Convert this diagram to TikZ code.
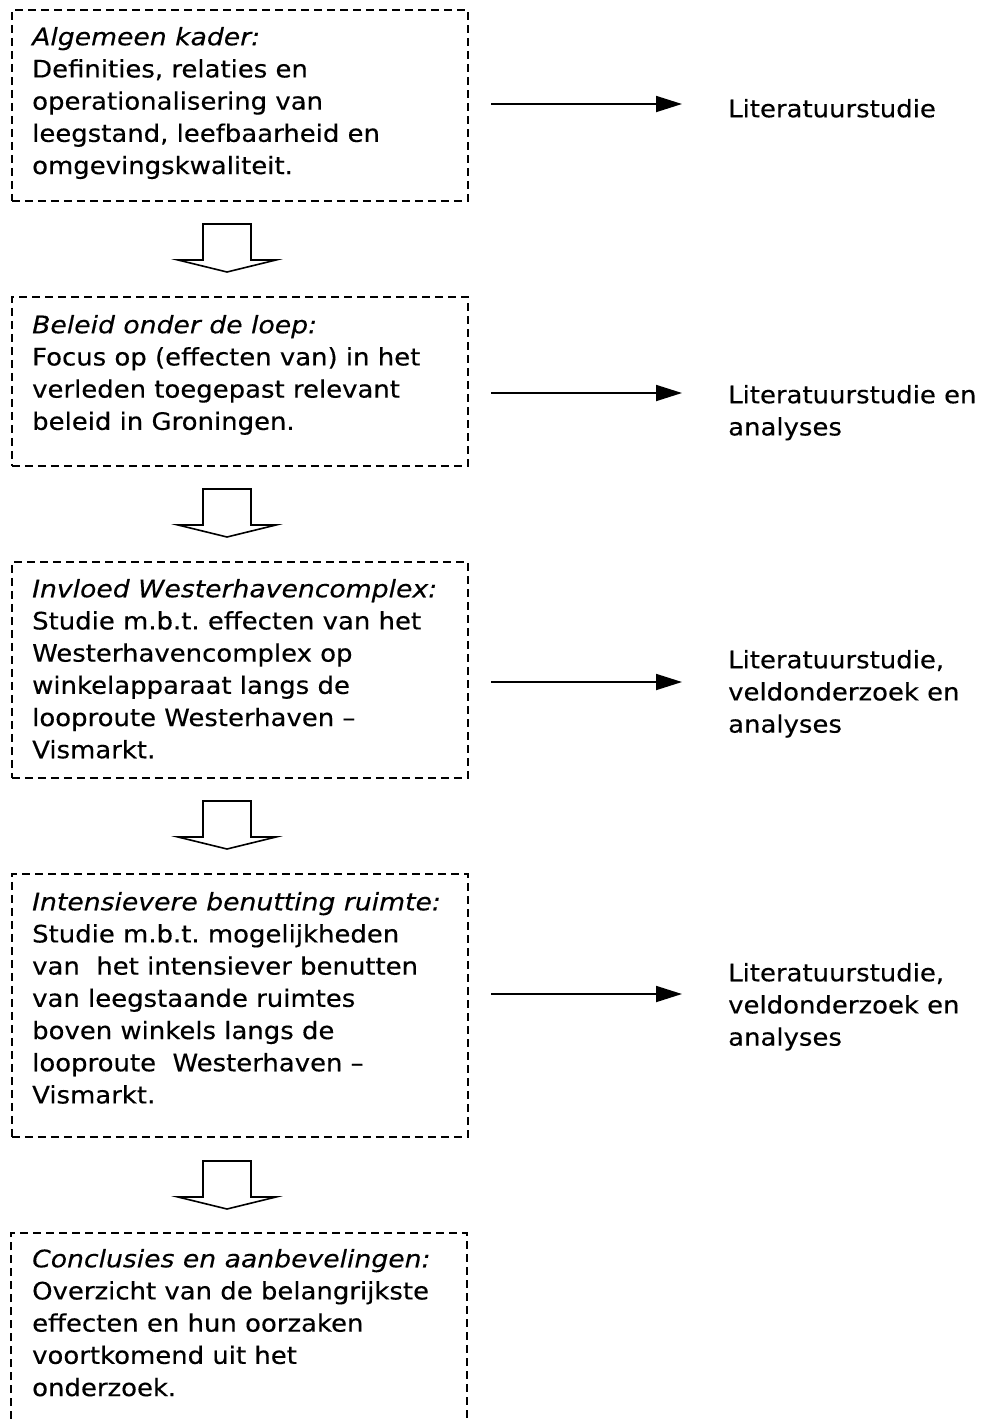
\documentclass[tikz,border=0pt]{standalone}
\usepackage{fontspec}
\setmainfont{DejaVu Sans}[FakeStretch=1.08,FakeBold=0.35,ItalicFeatures={FakeStretch=1.11}]
\usetikzlibrary{arrows.meta}
\frenchspacing
\tikzset{
  boxline/.style={draw=black, line width=1.5pt, dash pattern=on 8pt off 5pt},
  dbox/.style={boxline, rectangle, inner sep=0pt, anchor=north west, minimum width=456pt},
  txt/.style={inner sep=0pt, anchor=north west, align=left, font=\fontsize{24}{32.2}\selectfont\frenchspacing},
  arr/.style={line width=1.8pt, -{Triangle[length=26pt,width=16pt]}},
  pics/blockdown/.style={code={
    \draw[line width=1.6pt, line join=miter]
      (-24,0) -- (24,0) -- (24,36) -- (49,36) -- (0,48) -- (-49,36) -- (-24,36) -- cycle;
  }}
}
\begin{document}
\begin{tikzpicture}[x=1pt,y=-1pt]
\useasboundingbox (0,0) rectangle (984,1419);

% boxes
\node[dbox, minimum height=191pt] (b1) at (11,9) {};
\node[dbox, minimum height=169pt] (b2) at (11,296) {};
\node[dbox, minimum height=216pt] (b3) at (11,561) {};
\node[dbox, minimum height=263pt] (b4) at (11,873) {};
\draw[boxline] (11,1419) -- (11,1233) -- (467,1233) -- (467,1419);

% box texts
\node[txt] (t1) at (32,22.5) {\strut\textit{Algemeen kader:}\\Definities, relaties en\\operationalisering van\\leegstand, leefbaarheid en\\omgevingskwaliteit.};
\node[txt] (t2) at (32,310.5) {\strut\textit{Beleid onder de loep:}\\Focus op (effecten van) in het\\verleden toegepast relevant\\beleid in Groningen.};
\node[txt] (t3) at (32,574.5) {\strut\textit{Invloed Westerhavencomplex:}\\Studie m.b.t. effecten van het\\Westerhavencomplex op\\winkelapparaat langs de\\looproute Westerhaven –\\Vismarkt.};
\node[txt] (t4) at (32,887.5) {\strut\textit{Intensievere benutting ruimte:}\\Studie m.b.t. mogelijkheden\\van~\ het intensiever benutten\\van leegstaande ruimtes\\boven winkels langs de\\looproute~\ Westerhaven –\\Vismarkt.};
\node[txt] (t5) at (32,1244.5) {\strut\textit{Conclusies en aanbevelingen:}\\Overzicht van de belangrijkste\\effecten en hun oorzaken\\voortkomend uit het\\onderzoek.};

% right texts
\node[txt] (r1) at (728,94.5) {\strut Literatuurstudie};
\node[txt] (r2) at (728,380.5) {\strut Literatuurstudie en\\analyses};
\node[txt] (r3) at (728,645.5) {\strut Literatuurstudie,\\veldonderzoek en\\analyses};
\node[txt] (r4) at (728,958.5) {\strut Literatuurstudie,\\veldonderzoek en\\analyses};

% horizontal arrows
\coordinate (s1) at (491,104);  \coordinate (e1) at (682,104);
\coordinate (s2) at (491,393);  \coordinate (e2) at (682,393);
\coordinate (s3) at (491,682);  \coordinate (e3) at (682,682);
\coordinate (s4) at (491,994);  \coordinate (e4) at (682,994);
\draw[arr] (s1) -- (e1);
\draw[arr] (s2) -- (e2);
\draw[arr] (s3) -- (e3);
\draw[arr] (s4) -- (e4);

% block arrows
\pic at (227,224) {blockdown};
\pic at (227,489) {blockdown};
\pic at (227,801) {blockdown};
\pic at (227,1161) {blockdown};
\end{tikzpicture}
\end{document}
